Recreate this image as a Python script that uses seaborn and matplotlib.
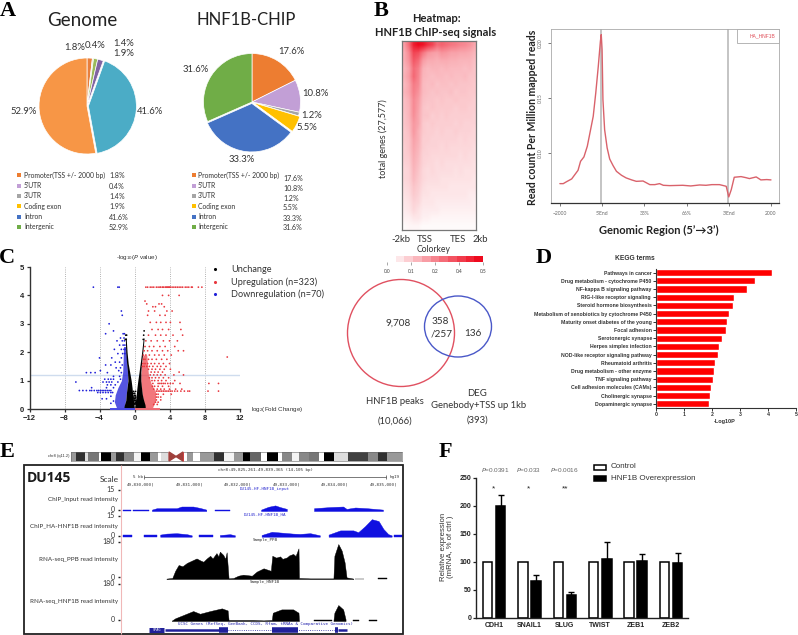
"""Multi-panel HNF1B figure: pies, ChIP heatmap and profile, volcano, Venn, KEGG, browser, qPCR."""

import matplotlib

matplotlib.use("Agg")

import matplotlib.pyplot as plt
import numpy as np
import pandas as pd
import seaborn as sns
from matplotlib.colors import LinearSegmentedColormap
from matplotlib.patches import Ellipse, Polygon, Rectangle

W, H = 798, 635

# A: pies
region_names = ["Promoter(TSS +/- 2000 bp)", "5'UTR", "3'UTR", "Coding exon", "Intron", "Intergenic"]
genome_share = [1.8, 0.4, 1.4, 1.9, 41.6, 52.9]
chip_share = [17.6, 10.8, 1.2, 5.5, 33.3, 31.6]
genome_colors = ["#E87F3C", "#D8DDB8", "#9BBB59", "#8064A2", "#4BACC6", "#F79646"]
chip_colors = ["#ED7D31", "#C29FD6", "#A5A5A5", "#FFC000", "#4472C4", "#70AD47"]

# B: heatmap, rows top to bottom, columns -2kb to 2kb
chip_matrix = [
    [.20, .30, .46, .50, .48, .42, .38, .30, .32, .30, .28, .27, .25, .24, .22, .18],
    [.17, .24, .38, .36, .28, .22, .20, .19, .22, .21, .19, .19, .18, .18, .17, .15],
    [.17, .22, .34, .30, .20, .17, .17, .16, .17, .17, .16, .16, .15, .15, .15, .13],
    [.15, .19, .30, .26, .16, .14, .15, .15, .14, .15, .14, .14, .14, .13, .14, .12],
    [.16, .20, .31, .25, .15, .14, .13, .14, .14, .13, .14, .13, .13, .14, .12, .12],
    [.14, .18, .27, .24, .14, .13, .14, .12, .13, .13, .12, .13, .12, .12, .12, .11],
    [.15, .18, .26, .22, .14, .13, .12, .13, .12, .12, .13, .11, .12, .12, .11, .11],
    [.13, .16, .24, .20, .13, .12, .12, .11, .12, .11, .11, .12, .11, .11, .11, .10],
    [.13, .15, .24, .19, .12, .11, .12, .11, .11, .11, .11, .10, .11, .11, .10, .10],
    [.12, .15, .23, .18, .12, .12, .10, .11, .10, .11, .10, .10, .10, .10, .10, .09],
    [.12, .14, .21, .18, .11, .10, .11, .10, .10, .10, .10, .09, .10, .09, .09, .09],
    [.11, .13, .21, .16, .11, .10, .10, .09, .10, .09, .09, .10, .09, .09, .09, .08],
    [.11, .12, .19, .16, .10, .10, .09, .09, .09, .09, .09, .09, .08, .09, .08, .08],
    [.10, .12, .18, .15, .10, .09, .09, .09, .08, .09, .08, .08, .08, .08, .08, .07],
    [.10, .11, .17, .14, .09, .09, .08, .08, .08, .08, .08, .08, .07, .08, .07, .07],
    [.09, .10, .16, .13, .09, .08, .08, .07, .08, .07, .07, .07, .07, .07, .07, .06],
    [.08, .09, .15, .12, .08, .07, .08, .07, .07, .07, .07, .06, .07, .06, .06, .06],
    [.08, .09, .14, .11, .08, .07, .07, .07, .06, .06, .06, .06, .06, .06, .06, .05],
    [.07, .08, .12, .10, .07, .06, .06, .06, .06, .06, .05, .05, .05, .05, .05, .05],
    [.06, .07, .11, .09, .06, .06, .05, .05, .05, .05, .05, .05, .05, .05, .04, .04],
    [.05, .06, .09, .08, .05, .05, .05, .04, .04, .04, .04, .04, .04, .04, .04, .03],
    [.04, .05, .08, .06, .04, .04, .04, .04, .03, .03, .03, .03, .03, .03, .03, .03],
    [.03, .03, .05, .05, .03, .03, .02, .02, .02, .02, .02, .02, .02, .02, .02, .02],
    [.01, .02, .02, .02, .01, .01, .01, .01, .01, .01, .01, .01, .01, .01, .01, .01],
]
key_values = [[0, .05, .1, .15, .2, .25, .3, .35, .4, .45, .5]]
key_ticks = ["0.0", "0.1", "0.2", "0.4", "0.5"]

# B: profile, x in units of the six tick positions
profile_x = [0, .08, .16, .28, .43, .49, .57, .65, .72, .79, .85, .91, .96, .98, 1.0, 1.02, 1.06, 1.12, 1.18, 1.26,
             1.34, 1.46, 1.57, 1.70, 1.81, 1.97, 2.13, 2.25, 2.36, 2.45, 2.60, 2.91, 3.10, 3.31, 3.46, 3.60, 3.78,
             3.94, 4.0, 4.06, 4.13, 4.29, 4.40, 4.49, 4.65, 4.76, 4.9, 5.0]
profile_y = [.0721, .0721, .0739, .0764, .0842, .0924, .0964, .1061, .1197, .1333, .1545, .1788, .2015, .2076,
             .1939, .1485, .1212, .1045, .0945, .0885, .0833, .0797, .0773, .0755, .0742, .0745, .0712, .0712, .0721,
             .0706, .0703, .0706, .0700, .0709, .0706, .0712, .0712, .0697, .0600, .0667, .0779, .0785, .0776, .0767,
             .0782, .0755, .0758, .0755]
profile_ticks = ["\u22122000", "5'End", "33%", "66%", "3'End", "2000"]

# C: volcano, dense bands as envelopes, sparse points as (y, xs)
black_left_y = [0, .15, .3, .5, .75, 1, 1.3, 1.6, 2, 2.5]
black_left_outer = [-1.25, -1.15, -1.0, -.95, -.85, -.75, -.8, -.9, -1.0, -1.05]
black_left_inner = [0, -.05, -.12, -.2, -.28, -.38, -.55, -.72, -.85, -.95]
black_right_y = [0, .15, .3, .5, .75, 1, 1.3, 1.6, 2, 2.5]
black_right_outer = [1.25, 1.2, 1.05, .9, .8, .72, .72, .8, .95, 1.1]
black_right_inner = [0, .05, .12, .2, .28, .38, .52, .65, .82, 1.0]
red_band_y = [0, .3, .6, .9, 1.2, 1.5, 1.9]
red_band_inner = [1.2, 1.0, .85, .72, .72, .8, .95]
red_band_outer = [2.0, 2.4, 2.4, 1.9, 1.6, 1.5, 1.4]
blue_band_y = [0, .25, .5, .75, 1, 1.3, 1.7, 2.2]
blue_band_inner = [-1.2, -1.05, -.95, -.85, -.78, -.8, -.9, -1.0]
blue_band_outer = [-2.0, -2.3, -2.2, -1.9, -1.5, -1.35, -1.3, -1.25]
black_rows = [
    (2.75, [1.1]), (2.6, [-1.0, -.9, 1.05]), (2.45, [-1.05, -.95, 1.0]),
    (.62, [-.1, .12]), (.55, [.02, -.08]), (.48, [.1, -.04]), (.42, [.05, -.12, .14]), (.36, [-.02, .08, -.16]),
    (.3, [.15, -.05, .02]), (.24, [-.1, .08, .18]), (.18, [.03, -.02, .12]),
]
red_rows = [
    (4.29, [1.3, 1.5, 1.8, 2.0, 2.2, 2.5, 2.7, 2.9, 3.0, 3.2, 3.3, 3.5, 3.6, 3.7, 3.8, 3.9, 4.0, 4.1, 4.3,
            4.5, 4.7, 4.9, 5.1, 5.3, 5.5, 5.8, 6.0, 6.2, 6.5, 6.6, 7.3, 7.7]),
    (4.0, [3.2, 3.9, 5.1]), (3.8, [1.2]), (3.7, [1.4, 2.8, 3.1]), (3.6, [2.1, 2.4, 3.4]),
    (3.45, [1.6, 2.3, 3.7, 4.3]), (3.3, [1.5, 2.9, 3.5]), (3.05, [1.8, 2.5, 3.0, 3.6, 4.1, 5.2]),
    (2.8, [2.0, 2.7, 3.2, 3.9, 5.3]), (2.6, [1.6, 2.4, 3.0, 3.6, 4.4, 5.5]), (2.4, [1.3, 1.9, 2.6, 3.3, 4.0, 4.9]),
    (2.2, [1.2, 1.7, 2.2, 2.9, 3.5, 4.6]), (2.05, [1.1, 1.5, 2.0, 2.6, 3.2, 3.8, 5.0, 5.6]),
    (1.9, [1.0, 1.3, 1.7, 2.3, 2.8, 3.4, 4.2]), (1.83, [10.6]), (1.75, [1.0, 1.2, 1.6, 2.0, 2.5, 3.1, 3.7]),
    (1.6, [.95, 1.2, 1.5, 1.9, 2.3, 2.8, 3.3, 4.0]), (1.5, [.9, 1.1, 1.4, 1.7, 2.1, 2.6, 3.0, 3.6]),
    (1.4, [1.6, 2.0, 2.4, 2.9, 3.4, 4.1]), (1.3, [1.9, 2.3, 2.7, 3.2, 5.1]),
    (1.2, [1.8, 2.2, 2.6, 3.0, 3.5, 4.5, 5.6]),
    (1.1, [1.7, 2.0, 2.4, 2.8, 3.3, 3.9]),
    (1.0, [2.0, 2.3, 2.7, 3.1, 3.6, 4.6]),
    (.9, [2.1, 2.7, 2.9, 3.1, 3.3, 3.5, 3.8, 4.1, 4.4, 5.2, 8.5, 9.6]),
    (.8, [2.05, 2.3, 2.7, 3.2, 3.9]),
    (.7, [2.2, 2.6, 3.0, 3.4, 4.0, 4.7, 5.4]),
    (.63, [2.5, 2.7, 2.9, 3.1, 3.3, 3.5, 3.7, 3.9, 4.1, 4.3, 4.6, 4.9, 5.3, 5.7, 6.1, 6.3, 8.4, 9.6]),
    (.52, [2.5, 2.7, 3.3, 4.2]),
    (.42, [2.5, 2.7, 3.0]),
    (.32, [2.5, 3.0]),
    (.24, [2.4, 2.7]),
    (.16, [2.2, 2.6]),
]
blue_rows = [
    (4.29, [-4.7, -1.9, -1.75]), (3.45, [-1.5]), (3.3, [-1.4]), (3.0, [-2.9]), (2.75, [-2.4]),
    (2.65, [-3.3, -1.3, -1.15]), (2.5, [-1.6, -1.2]), (2.4, [-2.0, -1.4, -1.15]), (2.25, [-1.7, -1.3, -1.1]),
    (2.1, [-2.3, -1.5, -1.2, -1.05]), (1.95, [-1.9, -1.35, -1.1]), (1.8, [-4.0, -2.6, -1.5]),
    (1.65, [-2.2, -1.7]), (1.55, [-3.3, -2.7, -1.4]), (1.45, [-2.1, -1.6]),
    (1.35, [-3.9, -1.8]), (1.28, [-5.0, -5.5, -4.5, -3.1, -1.5]),
    (1.15, [-2.4, -1.7]), (1.05, [-3.4, -3.0, -2.7, -2.4, -1.6]),
    (.95, [-6.7, -3.6, -3.2, -2.9, -2.6, -1.9]),
    (.85, [-3.1, -2.7, -2.2]), (.75, [-4.9, -3.2, -2.4]),
    (.65, [-6.3, -5.9, -5.5, -5.1, -4.9, -4.6, -4.3, -4.1, -3.9, -3.7, -3.5, -3.3, -3.1, -2.9, -2.7]),
    (.58, [-4.2, -3.9, -3.6, -3.3, -3.0, -2.7, -2.5]),
    (.45, [-2.7]), (.36, [-3.7, -3.2]), (.28, [-2.4]), (.2, [-2.7]),
]

# D: KEGG
kegg_terms = ["Pathways in cancer", "Drug metabolism - cytochrome P450", "NF-kappa B signaling pathway",
              "RIG-I-like receptor signaling ", "Steroid hormone biosynthesis",
              "Metabolism of xenobiotics by cytochrome P450", "Maturity onset diabetes of the young",
              "Focal adhesion", "Serotonergic synapse", "Herpes simplex infection",
              "NOD-like receptor signaling pathway", "Rheumatoid arthritis", "Drug metabolism - other enzyme",
              "TNF signaling pathway", "Cell adhesion molecules (CAMs)", "Cholinergic synapse",
              "Dopaminergic synapse"]
kegg_logp = [4.14, 3.53, 3.24, 2.79, 2.74, 2.62, 2.53, 2.49, 2.36, 2.24, 2.22, 2.11, 2.07, 2.03, 1.98, 1.92, 1.90]

# E: browser tracks, x in kb from 49,830,000, one list per covered stretch
input_x = [[-.63, -.46], [-.41, -.09], [-.03, .07, .48, .58, .82, .96, 1.09], [1.27, 1.58],
           [2.22, 2.37, 2.51, 2.61, 2.75], [3.31, 3.64, 3.91, 3.98, 4.16, 4.40, 4.73]]
input_y = [[1, 1], [1, 1], [1, 2, 2, 3.2, 3.2, 2.2, 1], [.8, .8], [1, 3, 4, 2.8, 1.5], [2, 2.8, 3.2, 1.5, 2.5, 2, 1]]
ha_x = [[-.63, -.43], [-.19, .08], [.14, .27, .48, .69, .79], [.94, 1.22], [1.37, 1.58, 1.68],
        [2.23, 2.44, 2.68, 2.88, 3.02, 3.23, 3.43],
        [3.61, 3.85, 4.12, 4.22, 4.36, 4.50, 4.64, 4.74, 4.84, 4.91], [4.95, 5.14]]
ha_y = [[1.2, 1.2], [1.2, 1.2], [1.5, 2.2, 2.5, 1.8, 1], [1.2, 1.2], [1.2, 1.8, 1], [1.2, 3.5, 2.8, 2.2, 2, 2.5, 1],
        [1.5, 4.5, 4.5, 3.2, 7.5, 12.5, 11.2, 5.5, 1.8, 1], [1.5, 1.5]]
ppb_x = [[.27, .39, .45, .52, .60, .69, .78, .89, .97, 1.03, 1.10, 1.17, 1.22, 1.30, 1.34, 1.37, 1.44, 1.48, 1.51, 1.55,
          1.65, 1.75, 1.85, 2.03, 2.13, 2.27, 2.42, 2.45, 2.53, 2.61, 2.66, 2.75, 2.80, 2.88, 2.93, 2.99, 3.0, 3.23,
          3.71, 3.73, 3.81, 3.88, 3.94, 3.98, 4.12], [4.16, 4.34], [4.63, 4.82]]
ppb_y = [[2, 5, 40, 68, 62, 78, 88, 100, 90, 84, 100, 113, 100, 126, 110, 133, 117, 98, 130, 3,
          5, 16, 21, 16, 36, 52, 40, 113, 104, 110, 98, 105, 115, 122, 112, 149, 5, 3,
          3, 113, 170, 138, 81, 8, 2], [2, 2], [3, 3]]
hnf_x = [[.38, .45, .62, .82, .96, 1.17, 1.41, 1.53, 1.55, 2.06, 2.27, 2.44, 2.46, 2.64, 2.88, 2.99, 3.0],
         [3.31, 3.68], [3.71, 3.73, 3.81, 3.91, 3.96], [4.12, 4.24], [4.45, 4.60]]
hnf_y = [[2, 13, 29, 48, 35, 48, 61, 51, 5, 5, 3, 5, 40, 56, 56, 40, 3], [3, 3], [3, 40, 77, 56, 8], [3, 3], [3, 3]]
ruler_kb = [0, 1, 2, 3, 4, 5]
ruler_labels = ["49,830,000|", "49,831,000|", "49,832,000|", "49,833,000|", "49,834,000|", "49,835,000|"]
band_widths = [15, 27, 7, 33, 7, 28, 15, 25, 30, 20, 25, 25, 10, 25, 50, 17, 23, 40, 30, 30, 25, 20, 35, 18, 32, 10,
               30, 20, 30, 30, 15, 30, 40, 30, 30, 30, 25, 45]
band_colors = ["#999999", "#303030", "#dddddd", "#777777", "#ffffff", "#000000", "#999999", "#303030", "#888888",
               "#f4f4f4", "#000000", "#999999", "#ffffff", "#dddddd", "#ffffff", "#999999", "#ffffff", "#999999",
               "#303030", "#f4f4f4", "#999999", "#000000", "#666666", "#ffffff", "#000000", "#ffffff", "#888888",
               "#f4f4f4", "#888888", "#777777", "#ffffff", "#000000", "#dddddd", "#404040", "#404040", "#888888",
               "#303030", "#999999"]

# F: qPCR
genes = ["CDH1", "SNAIL1", "SLUG", "TWIST", "ZEB1", "ZEB2"]
control_expr = [100, 100, 100, 100, 100, 100]
overexpr = [200, 66, 41, 105, 101, 98]
overexpr_err = [19, 10, 5, 30, 13, 18]
p_labels = [r"$\mathit{P}$=0.0391", r"$\mathit{P}$=0.033", r"$\mathit{P}$=0.0016"]
stars = ["*", "*", "**"]

sns.set_theme(style="white")
plt.rcParams["font.family"] = ["Lato", "DejaVu Sans"]
plt.rcParams["mathtext.default"] = "regular"
ARIAL = ["Liberation Sans", "DejaVu Sans"]
INK = "#333333"

fig = plt.figure(figsize=(W / 100, H / 100), dpi=100)


def px_axes(x0, y0, x1, y1, **kw):
    return fig.add_axes([x0 / W, 1 - y1 / H, (x1 - x0) / W, (y1 - y0) / H], **kw)


def put(x, y, s, size=5, ha="center", va="center", color=INK, **kw):
    fig.text(x / W, 1 - y / H, s, fontsize=size, ha=ha, va=va, color=color, **kw)


# full page layer for the drawn furniture, over the other axes but under the figure texts
page = px_axes(0, 0, W, H)
page.set_xlim(0, W)
page.set_ylim(H, 0)
page.axis("off")
page.set_zorder(1)

for letter, x, y in [("A", 8, 11), ("B", 381, 11), ("C", 7, 258), ("D", 544, 258), ("E", 7, 452), ("F", 445, 452)]:
    put(x, y, letter, size=16, color="black", family="Liberation Serif", weight="bold")

# ---- A
put(82, 20, "Genome", size=13.5, color="#222222")
put(246, 20, "HNF1B-CHIP", size=12, color="#222222")


def draw_pie(cx, cy, r, share, colors, explode):
    ax = px_axes(cx - r, cy - r, cx + r, cy + r)
    ax.pie(share, colors=colors, startangle=90, counterclock=False, radius=1, explode=explode, normalize=True,
           wedgeprops={"linewidth": 0.5, "edgecolor": "white", "clip_on": False})
    ax.set_xlim(-1, 1)
    ax.set_ylim(-1, 1)


draw_pie(87, 106, 48, genome_share, genome_colors, [0, 0, 0, 0, .03, 0])
draw_pie(252, 102, 48.5, chip_share, chip_colors, [0, 0, 0, .03, .03, 0])

for x, y, s in [(75, 47, "1.8%"), (95, 46, "0.4%"), (124, 44, "1.4%"), (124, 53, "1.9%"), (150, 111, "41.6%"),
                (24, 111, "52.9%"), (291, 52, "17.6%"), (315, 94, "10.8%"), (312, 115, "1.2%"), (307, 127, "5.5%"),
                (242, 160, "33.3%"), (196, 69, "31.6%")]:
    put(x, y, s, size=6.8)

legend_rows_a = [175, 186, 196, 206, 217, 227]
for i, name in enumerate(region_names):
    y = legend_rows_a[i]
    page.scatter([19], [y], marker="s", s=6, color=chip_colors[i], linewidths=0)
    put(24, y, name, size=4.9, ha="left")
    put(109, y + 1 - i * .2, f"{genome_share[i]}%", size=5.1, ha="left")
    page.scatter([194], [y], marker="s", s=6, color=chip_colors[i], linewidths=0)
    put(198, y, name, size=4.9, ha="left")
    put(283, y + 3 - i * .4, f"{chip_share[i]}%", size=5.1, ha="left")

# ---- B heatmap
put(436, 18, "Heatmap:", size=8, weight="bold", color="#222222")
put(436, 33, "HNF1B ChIP-seq signals", size=8, weight="bold", color="#222222")
white_red = LinearSegmentedColormap.from_list("white_red", ["#ffffff", "#ee0a1e"])
heat = px_axes(402, 41, 476, 230)
heat.imshow(chip_matrix, cmap=white_red, vmin=0, vmax=.5, aspect="auto", interpolation="bilinear")
heat.set_xticks([])
heat.set_yticks([])
for side in heat.spines.values():
    side.set_color("#777777")
    side.set_linewidth(.9)
put(383, 139, "total genes (27,577)", size=6.5, rotation=90)
for x, s in [(401, "-2kb"), (425, "TSS"), (458, "TES"), (480, "2kb")]:
    put(x, 240, s, size=6.8)
put(434, 250, "Colorkey", size=6.2)

key = px_axes(387, 256, 483, 262)
sns.heatmap(key_values, ax=key, cmap=white_red, vmin=0, vmax=.5, cbar=False, xticklabels=False, yticklabels=False)
key.set_xticks(np.linspace(0, len(key_values[0]), 5))
key.set_xticklabels(key_ticks, fontsize=3.5, color="#444444")
key.tick_params(axis="x", bottom=True, length=2.5, width=.4, color="#666666", pad=2.5, labelbottom=True)

# ---- B profile
prof = px_axes(551, 29, 779, 203)
sns.lineplot(x=profile_x, y=profile_y, ax=prof, color="#D9626B", linewidth=1, estimator=None, sort=False)
prof.axvline(.98, color="#c4c4c4", lw=1.4, zorder=1)
prof.axvline(3.99, color="#c4c4c4", lw=1.4, zorder=1)
prof.set_xlim(-.21, 5.19)
prof.set_ylim(.0545, .2127)
prof.set_xticks(range(6))
prof.set_xticklabels(profile_ticks, fontsize=3.6, color="#666666")
prof.set_yticks([.10, .15, .20])
prof.set_yticklabels(["0.10", "0.15", "0.20"], fontsize=3.6, color="#666666", rotation=90, va="center")
prof.tick_params(length=2.5, width=.5, color="#444444", bottom=True, left=True, pad=3)
for side in prof.spines.values():
    side.set_color("#aaaaaa")
    side.set_linewidth(.6)
prof.spines["bottom"].set_color("#333333")
prof.spines["bottom"].set_linewidth(.9)
page.add_patch(Rectangle((737, 29), 42, 14, facecolor="white", edgecolor="#aaaaaa", linewidth=.6))
put(763, 36, "HA_HNF1B", size=3.6, color="#E0505A", family=ARIAL)
put(532, 117, "Read count Per Million mapped reads", size=7.6, weight="bold", rotation=90, color="#222222")
put(659, 230, "Genomic Region (5\u2019\u21923\u2019)", size=8, weight="bold", color="#222222")


# ---- C volcano
def rows_to_frame(rows, group):
    return pd.DataFrame([{"fc": x, "p": y, "group": group} for y, xs in rows for x in xs])


volcano = pd.concat([rows_to_frame(blue_rows, "down"), rows_to_frame(red_rows, "up"), rows_to_frame(black_rows, "none")])
vol = px_axes(29.5, 267, 239.5, 409)
for x in [-8, -4, 0, 4, 8, 12]:
    vol.axvline(x, color="#999999", lw=.6, ls=":", zorder=0)
vol.axhline(1.19, color="#cfdcee", lw=1, zorder=0)
vol.fill_betweenx(blue_band_y, blue_band_inner, blue_band_outer, color="#2A2ADA", alpha=.8, linewidth=0)
vol.fill_betweenx(red_band_y, red_band_inner, red_band_outer, color="#EE4A50", alpha=.75, linewidth=0)
vol.fill_betweenx(black_left_y, black_left_outer, black_left_inner, color="black", linewidth=0)
vol.fill_betweenx(black_right_y, black_right_outer, black_right_inner, color="black", linewidth=0)
sns.scatterplot(data=volcano, x="fc", y="p", hue="group", palette={"none": "black", "up": "#E8383F", "down": "#2020D8"},
                s=1.6, linewidth=0, legend=False, ax=vol, clip_on=False)
vol.hlines(0, -2.75, 0, color="#4A4AE6", lw=1.4, zorder=4, clip_on=False)
vol.hlines(0, 0, 2.9, color="#F06A74", lw=1.4, zorder=4, clip_on=False)
vol.set_xlim(-12, 12)
vol.set_ylim(0, 5)
vol.set_xticks([-12, -8, -4, 0, 4, 8, 12])
vol.set_yticks(range(6))
vol.set_xlabel("")
vol.set_ylabel("")
sns.despine(ax=vol)
vol.patch.set_alpha(0)
for side in ["left", "bottom"]:
    vol.spines[side].set_linewidth(1)
    vol.spines[side].set_color("#333333")
vol.tick_params(length=2.5, width=.9, color="#333333", bottom=True, left=True, pad=1.5)
for t in vol.get_xticklabels() + vol.get_yticklabels():
    t.set_fontsize(5.5)
    t.set_fontweight("bold")
    t.set_family(ARIAL)
    t.set_color("#222222")
put(137, 257, r"-log$_{10}$($\mathit{P}$ value)", size=4.5, family=ARIAL)
put(277, 410, r"log$_{2}$(Fold Change)", size=4.5, family=ARIAL)
for y, color, s in [(269, "black", "Unchange"), (282, "#E8383F", "Upregulation (n=323)"),
                    (294, "#2020D8", "Downregulation (n=70)")]:
    page.scatter([215], [y], s=5, color=color, linewidths=0)
    put(231, y, s, size=6.6, ha="left")

# ---- Venn
page.add_patch(Ellipse((401, 333), 107, 107, fill=False, edgecolor="#E05060", linewidth=1))
page.add_patch(Ellipse((458, 326.5), 67, 61, fill=False, edgecolor="#4A58C8", linewidth=1))
for x, y, s in [(398, 323, "9,708"), (440, 322, "358"), (442, 334, "/257"), (473, 333, "136")]:
    put(x, y, s, size=7.2)
put(395, 401, "HNF1B peaks", size=6.8)
put(395, 421, "(10,066)", size=6.8)
put(477, 394, "DEG", size=6.8)
put(479, 406, "Genebody+TSS up 1kb", size=6.8)
put(477, 420, "(393)", size=6.8)

# ---- D KEGG
kegg = px_axes(656, 268.6, 796, 407.8)
sns.barplot(x=kegg_logp, y=kegg_terms, ax=kegg, color="#FF0000", saturation=1, width=.88, orient="h")
kegg.set_xlim(0, 5)
kegg.set_xticks(range(6))
sns.despine(ax=kegg)
kegg.tick_params(length=2, width=.7, color="#333333", bottom=True, left=True, pad=1)
for t in kegg.get_yticklabels() + kegg.get_xticklabels():
    t.set_fontsize(3.7)
    t.set_fontweight("bold")
    t.set_family(ARIAL)
    t.set_color("#333333")
for side in ["left", "bottom"]:
    kegg.spines[side].set_linewidth(.8)
    kegg.spines[side].set_color("#333333")
put(635, 258, "KEGG terms", size=4.8, weight="bold", family=ARIAL)
put(725, 421, "-Log10P", size=4, weight="bold", family=ARIAL)

# ---- E browser
put(59, 456, "chr8 (q11.2)", size=2.9, family=ARIAL)
ideo = px_axes(71, 452, 402, 461)
left_edges = np.cumsum([0] + band_widths[:-1])
ideo.barh([0] * len(band_widths), band_widths, left=left_edges, color=band_colors, height=1, edgecolor="none")
ideo.set_xlim(0, sum(band_widths))
ideo.set_ylim(-.5, .5)
ideo.set_xticks([])
ideo.set_yticks([])
for side in ideo.spines.values():
    side.set_linewidth(.4)
    side.set_color("#666666")
page.add_patch(Rectangle((168, 452), 15, 9, facecolor="white", edgecolor="none"))
page.add_patch(Polygon([(169, 452), (176, 456.5), (169, 461)], color="#A0403C"))
page.add_patch(Polygon([(183, 452), (176, 456.5), (183, 461)], color="#A0403C"))
page.add_patch(Rectangle((24, 465), 379, 169, fill=False, edgecolor="#222222", linewidth=1.3))
page.vlines(120.7, 465, 634, color="#F0B8B8", lw=.8)
page.vlines(183, 452, 461, color="#D04040", lw=.7)

KB_LEFT, KB_RIGHT = -.673, 5.137


def draw_track(top, base, ymax, xs, ys, color):
    ax = px_axes(120.7, top, 402.7, base)
    for seg_x, seg_y in zip(xs, ys):
        ax.fill_between(seg_x, 0, seg_y, color=color, linewidth=.3)
    ax.set_xlim(KB_LEFT, KB_RIGHT)
    ax.set_ylim(0, ymax)
    ax.axis("off")


draw_track(490, 511, 15, input_x, input_y, "#1010E0")
draw_track(515.7, 536.7, 15, ha_x, ha_y, "#1010E0")
draw_track(542, 579, 180, ppb_x, ppb_y, "black")
draw_track(583.7, 621, 180, hnf_x, hnf_y, "black")

ruler = px_axes(120.7, 470, 402.7, 490)
ruler.set_xlim(KB_LEFT, KB_RIGHT)
ruler.set_ylim(20, 0)
ruler.axis("off")
ruler.hlines(7, -.2, 4.8, color="#444444", lw=.5)
ruler.vlines([-.2, 4.8], 5, 9, color="#444444", lw=.5)
for kb, s in zip(ruler_kb, ruler_labels):
    ruler.text(kb + .02, 14, s, fontsize=3.1, ha="right", va="center", family="DejaVu Sans Mono", color="#333333")
ruler.text(-.31, 7, "5 kb", fontsize=3.1, ha="center", va="center", family="DejaVu Sans Mono", color="#333333")
ruler.text(4.98, 7, "hg19", fontsize=3.1, ha="center", va="center", family="DejaVu Sans Mono", color="#333333")
put(265, 470, "chr8:49,825,261-49,839,365 (14,105 bp)", size=3.1, family="DejaVu Sans Mono")

for x, y, s in [(265, 489, "DU145-HF-HNF1B_input"), (265, 514, "DU145-HF-HNF1B_HA")]:
    put(x, y, s, size=3.1, family="DejaVu Sans Mono", color="#2A2AD0")
for x, y, s in [(265, 540, "Sample_PPB"), (265, 582, "Sample_HNF1B")]:
    put(x, y, s, size=3.1, family="DejaVu Sans Mono")
put(265, 624.5, "UCSC Genes (RefSeq, GenBank, CCDS, Rfam, tRNAs & Comparative Genomics)", size=3.1,
    family="DejaVu Sans Mono", color="#2A2AB0")

gene = px_axes(120.7, 626, 402.7, 634)
gene.set_xlim(KB_LEFT, KB_RIGHT)
gene.set_ylim(-1, 1)
gene.axis("off")
gene.hlines(0, 1.53, 3.74, color="#20209A", lw=.6, ls=":")
gene.hlines(0, .24, 1.37, color="#20209A", lw=1.8)
gene.hlines(0, 3.81, 3.98, color="#20209A", lw=1.8)
gene.hlines(0, -.08, .21, color="#20209A", lw=3.6)
for x0, x1 in [(1.36, 1.53), (2.45, 2.99), (3.74, 3.81)]:
    gene.hlines(0, x0, x1, color="#20209A", lw=4)
gene.text(.065, 0, "SPAG", fontsize=2.6, color="white", ha="center", va="center", family="DejaVu Sans Mono")

put(27, 478, "DU145", size=10, ha="left", weight="bold", color="#1a1a1a", family=["Open Sans", "DejaVu Sans"])
put(109, 479, "Scale", size=6, color="#333333")
for y, s in [(490, "15"), (510, "0"), (516, "15"), (535.5, "0"), (542, "180"), (577, "0"), (583.7, "180"), (620, "0")]:
    put(115, y, s, size=5, ha="right")
    page.hlines(y, 118, 120, color="#222222", lw=1)
for y, s in [(500, "ChIP_Input read intensity"), (526.3, "ChIP_HA-HNF1B read intensity"),
             (559, "RNA-seq_PPB read intensity"), (601, "RNA-seq_HNF1B read intensity")]:
    put(118, y, s, size=4.5, ha="right")

# ---- F qPCR
qpcr = pd.DataFrame({
    "gene": genes * 2,
    "group": ["Control"] * 6 + ["HNF1B Overexpression"] * 6,
    "value": control_expr + overexpr,
})
bars = px_axes(476, 478, 688, 618)
sns.barplot(data=qpcr, x="gene", y="value", hue="group", ax=bars, order=genes, width=.74, gap=.27, saturation=1,
            palette={"Control": "white", "HNF1B Overexpression": "black"}, edgecolor="black", linewidth=1.1,
            legend=False)
for patch, val, err in zip(bars.containers[1], overexpr, overexpr_err):
    cx = patch.get_x() + patch.get_width() / 2
    bars.errorbar(cx, val, yerr=[[0], [err]], color="black", capsize=2, elinewidth=1, capthick=1)
bars.set_xlim(-.51, 5.48)
bars.set_ylim(0, 250)
bars.set_yticks([0, 50, 100, 150, 200, 250])
bars.set_xlabel("")
bars.set_ylabel("")
sns.despine(ax=bars)
bars.tick_params(axis="y", length=2.5, width=.9, color="#222222", left=True, pad=1)
bars.tick_params(axis="x", length=0, pad=3)
for t in bars.get_xticklabels() + bars.get_yticklabels():
    t.set_fontsize(5)
    t.set_fontweight("bold")
    t.set_family(ARIAL)
    t.set_color("#222222")
for side in ["left", "bottom"]:
    bars.spines[side].set_linewidth(1)
    bars.spines[side].set_color("#222222")
put(447, 547, "Relative expression\n(mRNA, % of ctrl )", size=5.6, rotation=90, family=ARIAL, linespacing=1.05)
for x, s in zip([495, 529, 564], p_labels):
    put(x, 470, s, size=4.6, family=ARIAL, color="#666666")
for x, s in zip([493.5, 528.5, 565], stars):
    put(x, 489, s, size=6, family=ARIAL, color="#222222")
page.add_patch(Rectangle((594, 464.5), 12, 5, facecolor="white", edgecolor="black", linewidth=1.1))
page.add_patch(Rectangle((594, 476), 12, 5, facecolor="black", edgecolor="black", linewidth=1.1))
put(611, 467, "Control", size=5.8, ha="left", family=ARIAL)
put(611, 478, "HNF1B Overexpression", size=5.8, ha="left", family=ARIAL)

fig.savefig("out.png", dpi=100)
plt.close(fig)
